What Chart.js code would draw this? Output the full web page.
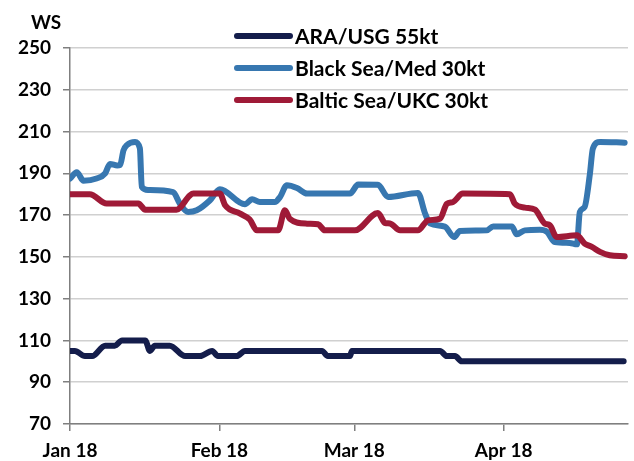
<!DOCTYPE html>
<html>
<head>
<meta charset="utf-8">
<title>WS rates</title>
<script src="https://cdn.jsdelivr.net/npm/chart.js@4.4.0/dist/chart.umd.min.js"></script>
<style>
  html, body { margin: 0; padding: 0; background: #fff; }
  #wrap { width: 634px; height: 461px; position: relative; }
</style>
</head>
<body>
<div id="wrap"><canvas id="chart"></canvas></div>
<script>
// Axis: days counted from 1 Jan 2018
const monthTicks = [0, 31, 59, 90];
const monthLabels = ['Jan 18', 'Feb 18', 'Mar 18', 'Apr 18'];
const seriesNames = ['ARA/USG 55kt', 'Black Sea/Med 30kt', 'Baltic Sea/UKC 30kt'];

// ARA/USG 55kt
const araDays = [0, 1, 3.1, 4.6, 7.3, 9.3, 10.8, 15.6, 16.6, 17.6, 20.7, 23.9, 27, 29.5, 30.7, 34.6, 36.3,
  52.3, 53.5, 58.1, 58.5, 76.8, 78.2, 79.9, 81.3, 114.9];
const araValues = [105, 105, 102.5, 102.5, 107.5, 107.5, 110, 110, 105, 107.5, 107.5, 102.5, 102.5, 105, 102.5, 102.5, 105,
  105, 102.5, 102.5, 105, 105, 102.5, 102.5, 100, 100];

// Black Sea/Med 30kt
const blackSeaDays = [0, 1.4, 2.8, 5.5, 7.3, 8.3, 9.8, 10.4, 11.1, 11.8, 13.5, 14.5, 14.9, 16.2, 21.4, 22.8, 24.5, 26.3,
  29, 31.1, 36.3, 37.8, 39.4, 42.5, 43.6, 45, 47.1, 49.2, 58.1, 59.8, 63.9, 66, 72.2, 73.7, 74.7, 77.8, 79.7, 80.9,
  86.5, 87.8, 91.7, 92.7, 94.4, 97.5, 99, 100.6, 103.7, 105.2, 105.8, 106.8, 107.9, 108.5, 110, 115.1];
const blackSeaValues = [187.5, 190.5, 186.5, 187.5, 190, 194.5, 193.8, 194, 201, 203.5, 205, 202, 183.5, 182, 181, 175.5, 171.5, 172.3,
  177, 182.4, 175.2, 177.6, 176.3, 176.3, 178.7, 184.3, 183, 180.3, 180.3, 184.6, 184.5, 178.7, 180.6, 170.7, 166, 164.5, 159.5, 162.4,
  162.7, 164.6, 164.6, 160.8, 162.7, 163, 162, 157.1, 156.7, 156, 171.5, 173.9, 189.9, 201.8, 205, 204.7];

// Baltic Sea/UKC 30kt
const balticDays = [0, 4.1, 7.6, 14.2, 15.6, 22.1, 24.9, 25.6, 31.1, 32.2, 35.3, 37.3, 38.8, 43.2, 44.6, 45.6, 49.2, 51.5,
  52.9, 59.1, 63.9, 65.4, 66.4, 68.5, 72.2, 74.3, 76.8, 78.2, 79.5, 81.5, 91.3, 92.3, 94.4, 96.5, 98.5, 99.6, 101,
  105.2, 106.8, 108.3, 110, 112, 115.1];
const balticValues = [180, 180, 175.5, 175.5, 172.6, 172.6, 179.5, 180.3, 180.3, 174.7, 170.7, 167.9, 162.7, 162.7, 172.3, 168.3, 165.9, 165.6,
  162.7, 162.7, 171, 166.2, 166, 162.7, 162.7, 167.5, 168.3, 175.4, 176.3, 180.3, 180, 175.5, 173.6, 172.6, 166, 165.1, 159.5,
  160.3, 156.4, 154.8, 152.4, 150.8, 150.3];

const colors = ['#141d4b', '#3777b0', '#9f1a37'];
const FONT = 'Lato';

function toPoints(xs, ys) {
    return xs.map((x, i) => ({ x: x, y: ys[i] }));
}

// Legend and the "WS" unit label, drawn after the chart
const overlayPlugin = {
    id: 'overlay',
    afterDraw(chart) {
        const ctx = chart.ctx;
        ctx.save();
        ctx.font = 'bold 19px ' + FONT;
        ctx.fillStyle = '#000';
        ctx.textBaseline = 'middle';
        ctx.textAlign = 'left';
        ctx.fillText('WS', 31, 23);

        ctx.font = 'bold 21px ' + FONT;
        seriesNames.forEach((name, i) => {
            const y = 36 + i * 32;
            ctx.strokeStyle = colors[i];
            ctx.lineWidth = 6;
            ctx.lineCap = 'round';
            ctx.beginPath();
            ctx.moveTo(237, y);
            ctx.lineTo(290, y);
            ctx.stroke();
            ctx.fillStyle = '#000';
            ctx.fillText(name, 295, y + 1);
        });
        ctx.restore();
    }
};

const lineStyle = {
    borderWidth: 6,
    pointRadius: 0,
    borderCapStyle: 'round',
    borderJoinStyle: 'round',
    cubicInterpolationMode: 'monotone',
    fill: false
};

new Chart(document.getElementById('chart').getContext('2d'), {
    type: 'line',
    data: {
        datasets: [
            Object.assign({ label: seriesNames[0], data: toPoints(araDays, araValues), borderColor: colors[0], order: 3 }, lineStyle),
            Object.assign({ label: seriesNames[1], data: toPoints(blackSeaDays, blackSeaValues), borderColor: colors[1], order: 2 }, lineStyle),
            Object.assign({ label: seriesNames[2], data: toPoints(balticDays, balticValues), borderColor: colors[2], order: 1 }, lineStyle)
        ]
    },
    options: {
        responsive: true,
        maintainAspectRatio: false,
        animation: false,
        layout: { padding: { top: 48, right: 6, left: 0, bottom: 0 } },
        plugins: {
            legend: { display: false },
            tooltip: { enabled: false }
        },
        scales: {
            x: {
                type: 'linear',
                min: 0,
                max: 115.8,
                afterBuildTicks: (scale) => { scale.ticks = monthTicks.map(v => ({ value: v })); },
                afterFit: (scale) => { scale.height = 37; },
                ticks: {
                    autoSkip: false,
                    maxRotation: 0,
                    padding: 8,
                    color: '#000',
                    font: { family: FONT, size: 19, weight: 'bold' },
                    callback: (v) => monthLabels[monthTicks.indexOf(v)]
                },
                grid: { drawOnChartArea: false, tickLength: 7, color: '#7f7f7f', lineWidth: 1.5 },
                border: { color: '#7f7f7f', width: 1.5 }
            },
            y: {
                min: 70,
                max: 250,
                afterFit: (scale) => { scale.width = 70; },
                ticks: {
                    stepSize: 20,
                    padding: 12,
                    color: '#000',
                    font: { family: FONT, size: 19, weight: 'bold' }
                },
                grid: { color: '#d0d0d0', lineWidth: 1.5, tickLength: 7, tickColor: '#7f7f7f' },
                border: { color: '#7f7f7f', width: 1.5 }
            }
        }
    },
    plugins: [overlayPlugin]
});
</script>
</body>
</html>
